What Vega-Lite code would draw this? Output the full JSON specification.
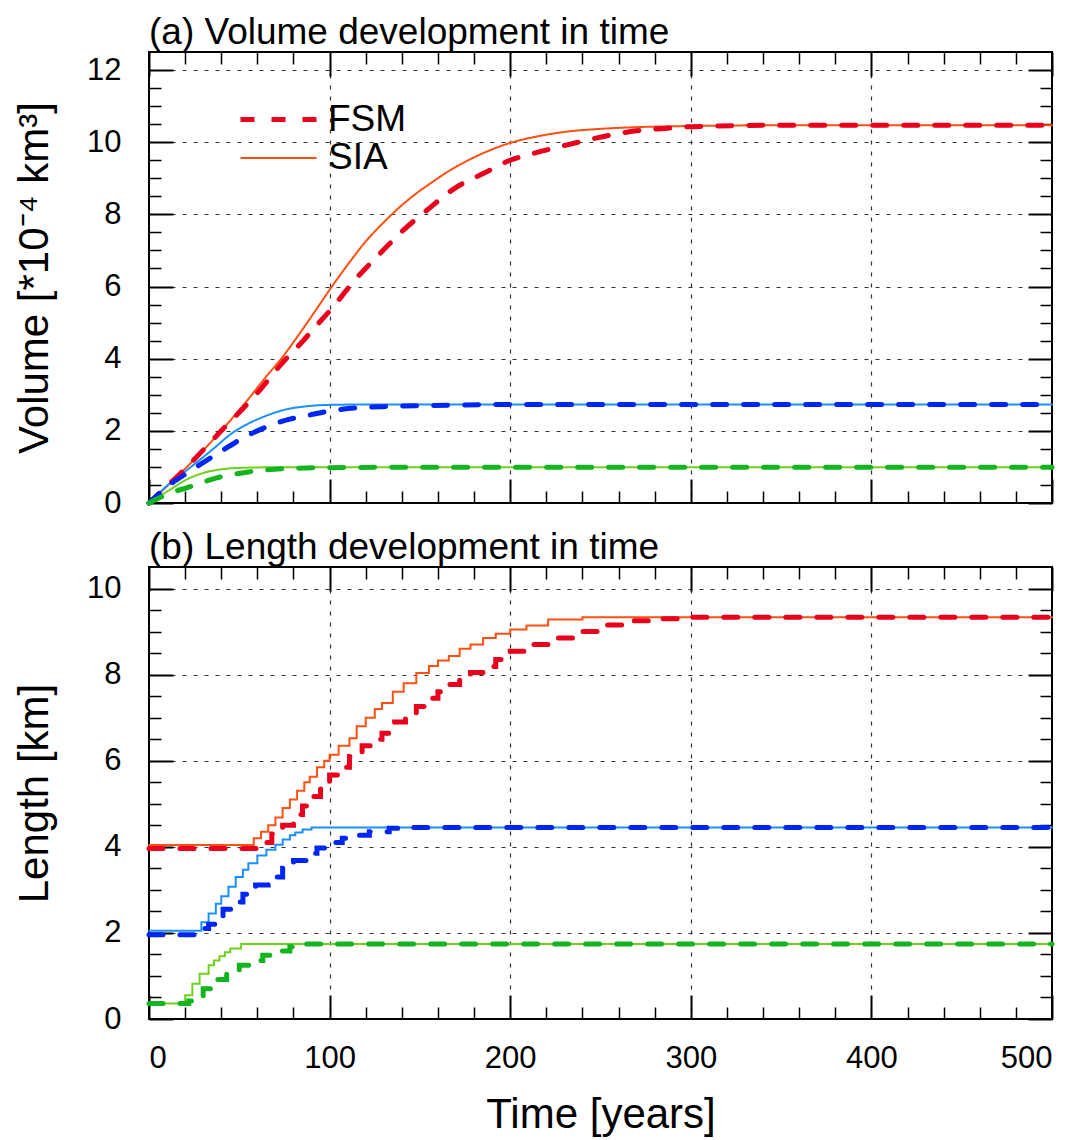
{
  "$schema": "https://vega.github.io/schema/vega-lite/v6.json",
  "padding": {"left": 12, "top": 13, "right": 10, "bottom": 5},
  "bounds": "flush",
  "spacing": 64,
  "config": {
    "font": "Liberation Sans",
    "view": {"stroke": "black", "strokeWidth": 2},
    "axis": {"labelFont": "Liberation Sans", "titleFont": "Liberation Sans", "labelColor": "black", "titleColor": "black", "titleFontWeight": "normal"},
    "title": {"font": "Liberation Sans", "fontWeight": "normal", "color": "black"},
    "legend": {"labelFont": "Liberation Sans"}
  },
  "datasets": {
    "vol": [
      {"series": "SIA-1", "model": "SIA", "t": 0, "v": 0},
      {"series": "SIA-1", "model": "SIA", "t": 21, "v": 1.0},
      {"series": "SIA-1", "model": "SIA", "t": 40, "v": 2.0},
      {"series": "SIA-1", "model": "SIA", "t": 55, "v": 2.88},
      {"series": "SIA-1", "model": "SIA", "t": 64, "v": 3.45},
      {"series": "SIA-1", "model": "SIA", "t": 74, "v": 4.05},
      {"series": "SIA-1", "model": "SIA", "t": 84, "v": 4.74},
      {"series": "SIA-1", "model": "SIA", "t": 92, "v": 5.32},
      {"series": "SIA-1", "model": "SIA", "t": 101, "v": 5.98},
      {"series": "SIA-1", "model": "SIA", "t": 111, "v": 6.67},
      {"series": "SIA-1", "model": "SIA", "t": 120, "v": 7.25},
      {"series": "SIA-1", "model": "SIA", "t": 130, "v": 7.78},
      {"series": "SIA-1", "model": "SIA", "t": 137, "v": 8.12},
      {"series": "SIA-1", "model": "SIA", "t": 148, "v": 8.58},
      {"series": "SIA-1", "model": "SIA", "t": 157, "v": 8.9},
      {"series": "SIA-1", "model": "SIA", "t": 167, "v": 9.23},
      {"series": "SIA-1", "model": "SIA", "t": 176, "v": 9.48},
      {"series": "SIA-1", "model": "SIA", "t": 187, "v": 9.74},
      {"series": "SIA-1", "model": "SIA", "t": 200, "v": 9.98},
      {"series": "SIA-1", "model": "SIA", "t": 213, "v": 10.14},
      {"series": "SIA-1", "model": "SIA", "t": 231, "v": 10.29},
      {"series": "SIA-1", "model": "SIA", "t": 250, "v": 10.37},
      {"series": "SIA-1", "model": "SIA", "t": 266, "v": 10.41},
      {"series": "SIA-1", "model": "SIA", "t": 300, "v": 10.45},
      {"series": "SIA-1", "model": "SIA", "t": 350, "v": 10.47},
      {"series": "SIA-1", "model": "SIA", "t": 500, "v": 10.47},
      {"series": "FSM-1", "model": "FSM", "t": 0, "v": 0},
      {"series": "FSM-1", "model": "FSM", "t": 21, "v": 1.0},
      {"series": "FSM-1", "model": "FSM", "t": 40, "v": 2.0},
      {"series": "FSM-1", "model": "FSM", "t": 60, "v": 3.05},
      {"series": "FSM-1", "model": "FSM", "t": 75, "v": 3.95},
      {"series": "FSM-1", "model": "FSM", "t": 84, "v": 4.42},
      {"series": "FSM-1", "model": "FSM", "t": 91, "v": 4.82},
      {"series": "FSM-1", "model": "FSM", "t": 102, "v": 5.44},
      {"series": "FSM-1", "model": "FSM", "t": 114, "v": 6.18},
      {"series": "FSM-1", "model": "FSM", "t": 128, "v": 6.92},
      {"series": "FSM-1", "model": "FSM", "t": 141, "v": 7.57},
      {"series": "FSM-1", "model": "FSM", "t": 154, "v": 8.12},
      {"series": "FSM-1", "model": "FSM", "t": 168, "v": 8.68},
      {"series": "FSM-1", "model": "FSM", "t": 187, "v": 9.18},
      {"series": "FSM-1", "model": "FSM", "t": 200, "v": 9.5},
      {"series": "FSM-1", "model": "FSM", "t": 213, "v": 9.69},
      {"series": "FSM-1", "model": "FSM", "t": 231, "v": 9.92},
      {"series": "FSM-1", "model": "FSM", "t": 250, "v": 10.14},
      {"series": "FSM-1", "model": "FSM", "t": 266, "v": 10.29},
      {"series": "FSM-1", "model": "FSM", "t": 285, "v": 10.38},
      {"series": "FSM-1", "model": "FSM", "t": 300, "v": 10.43},
      {"series": "FSM-1", "model": "FSM", "t": 350, "v": 10.47},
      {"series": "FSM-1", "model": "FSM", "t": 500, "v": 10.47},
      {"series": "SIA-2", "model": "SIA", "t": 0, "v": 0},
      {"series": "SIA-2", "model": "SIA", "t": 10, "v": 0.48},
      {"series": "SIA-2", "model": "SIA", "t": 22, "v": 0.95},
      {"series": "SIA-2", "model": "SIA", "t": 37, "v": 1.56},
      {"series": "SIA-2", "model": "SIA", "t": 45, "v": 1.9},
      {"series": "SIA-2", "model": "SIA", "t": 55, "v": 2.2},
      {"series": "SIA-2", "model": "SIA", "t": 65, "v": 2.42},
      {"series": "SIA-2", "model": "SIA", "t": 74, "v": 2.57},
      {"series": "SIA-2", "model": "SIA", "t": 89, "v": 2.69},
      {"series": "SIA-2", "model": "SIA", "t": 100, "v": 2.72},
      {"series": "SIA-2", "model": "SIA", "t": 120, "v": 2.73},
      {"series": "SIA-2", "model": "SIA", "t": 500, "v": 2.73},
      {"series": "FSM-2", "model": "FSM", "t": 0, "v": 0},
      {"series": "FSM-2", "model": "FSM", "t": 10, "v": 0.45},
      {"series": "FSM-2", "model": "FSM", "t": 22, "v": 0.86},
      {"series": "FSM-2", "model": "FSM", "t": 37, "v": 1.34},
      {"series": "FSM-2", "model": "FSM", "t": 55, "v": 1.88},
      {"series": "FSM-2", "model": "FSM", "t": 74, "v": 2.27},
      {"series": "FSM-2", "model": "FSM", "t": 89, "v": 2.44},
      {"series": "FSM-2", "model": "FSM", "t": 100, "v": 2.55},
      {"series": "FSM-2", "model": "FSM", "t": 129, "v": 2.67},
      {"series": "FSM-2", "model": "FSM", "t": 166, "v": 2.71},
      {"series": "FSM-2", "model": "FSM", "t": 200, "v": 2.73},
      {"series": "FSM-2", "model": "FSM", "t": 500, "v": 2.73},
      {"series": "SIA-3", "model": "SIA", "t": 0, "v": 0},
      {"series": "SIA-3", "model": "SIA", "t": 11, "v": 0.35},
      {"series": "SIA-3", "model": "SIA", "t": 22, "v": 0.68},
      {"series": "SIA-3", "model": "SIA", "t": 30, "v": 0.83},
      {"series": "SIA-3", "model": "SIA", "t": 37, "v": 0.91},
      {"series": "SIA-3", "model": "SIA", "t": 45, "v": 0.96},
      {"series": "SIA-3", "model": "SIA", "t": 55, "v": 0.98},
      {"series": "SIA-3", "model": "SIA", "t": 70, "v": 0.99},
      {"series": "SIA-3", "model": "SIA", "t": 500, "v": 0.99},
      {"series": "FSM-3", "model": "FSM", "t": 0, "v": 0},
      {"series": "FSM-3", "model": "FSM", "t": 11, "v": 0.26},
      {"series": "FSM-3", "model": "FSM", "t": 22, "v": 0.44},
      {"series": "FSM-3", "model": "FSM", "t": 37, "v": 0.69},
      {"series": "FSM-3", "model": "FSM", "t": 55, "v": 0.86},
      {"series": "FSM-3", "model": "FSM", "t": 74, "v": 0.95},
      {"series": "FSM-3", "model": "FSM", "t": 100, "v": 0.98},
      {"series": "FSM-3", "model": "FSM", "t": 140, "v": 0.99},
      {"series": "FSM-3", "model": "FSM", "t": 500, "v": 0.99}
    ],
    "len": [
      {"series": "SIA-1", "model": "SIA", "t": 0, "l": 4.04},
      {"series": "SIA-1", "model": "SIA", "t": 55, "l": 4.04},
      {"series": "SIA-1", "model": "SIA", "t": 58, "l": 4.2},
      {"series": "SIA-1", "model": "SIA", "t": 62, "l": 4.35},
      {"series": "SIA-1", "model": "SIA", "t": 66, "l": 4.5},
      {"series": "SIA-1", "model": "SIA", "t": 70, "l": 4.68},
      {"series": "SIA-1", "model": "SIA", "t": 74, "l": 4.9},
      {"series": "SIA-1", "model": "SIA", "t": 78, "l": 5.1},
      {"series": "SIA-1", "model": "SIA", "t": 82, "l": 5.3},
      {"series": "SIA-1", "model": "SIA", "t": 86, "l": 5.5},
      {"series": "SIA-1", "model": "SIA", "t": 89, "l": 5.63},
      {"series": "SIA-1", "model": "SIA", "t": 93, "l": 5.85},
      {"series": "SIA-1", "model": "SIA", "t": 97, "l": 6.0},
      {"series": "SIA-1", "model": "SIA", "t": 100, "l": 6.14},
      {"series": "SIA-1", "model": "SIA", "t": 105, "l": 6.35},
      {"series": "SIA-1", "model": "SIA", "t": 111, "l": 6.52},
      {"series": "SIA-1", "model": "SIA", "t": 115, "l": 6.8},
      {"series": "SIA-1", "model": "SIA", "t": 120, "l": 7.0},
      {"series": "SIA-1", "model": "SIA", "t": 125, "l": 7.2},
      {"series": "SIA-1", "model": "SIA", "t": 129, "l": 7.34},
      {"series": "SIA-1", "model": "SIA", "t": 135, "l": 7.6},
      {"series": "SIA-1", "model": "SIA", "t": 141, "l": 7.8},
      {"series": "SIA-1", "model": "SIA", "t": 148, "l": 8.04},
      {"series": "SIA-1", "model": "SIA", "t": 155, "l": 8.2},
      {"series": "SIA-1", "model": "SIA", "t": 160, "l": 8.33},
      {"series": "SIA-1", "model": "SIA", "t": 166, "l": 8.43},
      {"series": "SIA-1", "model": "SIA", "t": 172, "l": 8.6},
      {"series": "SIA-1", "model": "SIA", "t": 178, "l": 8.7},
      {"series": "SIA-1", "model": "SIA", "t": 185, "l": 8.85},
      {"series": "SIA-1", "model": "SIA", "t": 192, "l": 8.95},
      {"series": "SIA-1", "model": "SIA", "t": 200, "l": 9.05},
      {"series": "SIA-1", "model": "SIA", "t": 209, "l": 9.14},
      {"series": "SIA-1", "model": "SIA", "t": 221, "l": 9.28},
      {"series": "SIA-1", "model": "SIA", "t": 240, "l": 9.33},
      {"series": "SIA-1", "model": "SIA", "t": 500, "l": 9.33},
      {"series": "FSM-1", "model": "FSM", "t": 0, "l": 3.96},
      {"series": "FSM-1", "model": "FSM", "t": 59, "l": 3.96},
      {"series": "FSM-1", "model": "FSM", "t": 62, "l": 4.1},
      {"series": "FSM-1", "model": "FSM", "t": 68, "l": 4.3},
      {"series": "FSM-1", "model": "FSM", "t": 74, "l": 4.5},
      {"series": "FSM-1", "model": "FSM", "t": 80, "l": 4.75},
      {"series": "FSM-1", "model": "FSM", "t": 85, "l": 4.95},
      {"series": "FSM-1", "model": "FSM", "t": 89, "l": 5.17},
      {"series": "FSM-1", "model": "FSM", "t": 95, "l": 5.4},
      {"series": "FSM-1", "model": "FSM", "t": 100, "l": 5.67},
      {"series": "FSM-1", "model": "FSM", "t": 105, "l": 5.85},
      {"series": "FSM-1", "model": "FSM", "t": 111, "l": 6.1},
      {"series": "FSM-1", "model": "FSM", "t": 118, "l": 6.35},
      {"series": "FSM-1", "model": "FSM", "t": 123, "l": 6.5},
      {"series": "FSM-1", "model": "FSM", "t": 129, "l": 6.64},
      {"series": "FSM-1", "model": "FSM", "t": 136, "l": 6.9},
      {"series": "FSM-1", "model": "FSM", "t": 142, "l": 7.1},
      {"series": "FSM-1", "model": "FSM", "t": 148, "l": 7.26},
      {"series": "FSM-1", "model": "FSM", "t": 155, "l": 7.45},
      {"series": "FSM-1", "model": "FSM", "t": 160, "l": 7.6},
      {"series": "FSM-1", "model": "FSM", "t": 166, "l": 7.77},
      {"series": "FSM-1", "model": "FSM", "t": 172, "l": 7.9},
      {"series": "FSM-1", "model": "FSM", "t": 178, "l": 8.05},
      {"series": "FSM-1", "model": "FSM", "t": 185, "l": 8.19},
      {"series": "FSM-1", "model": "FSM", "t": 192, "l": 8.35},
      {"series": "FSM-1", "model": "FSM", "t": 200, "l": 8.54},
      {"series": "FSM-1", "model": "FSM", "t": 210, "l": 8.7},
      {"series": "FSM-1", "model": "FSM", "t": 221, "l": 8.85},
      {"series": "FSM-1", "model": "FSM", "t": 235, "l": 9.0},
      {"series": "FSM-1", "model": "FSM", "t": 250, "l": 9.15},
      {"series": "FSM-1", "model": "FSM", "t": 265, "l": 9.25},
      {"series": "FSM-1", "model": "FSM", "t": 280, "l": 9.3},
      {"series": "FSM-1", "model": "FSM", "t": 300, "l": 9.33},
      {"series": "FSM-1", "model": "FSM", "t": 500, "l": 9.33},
      {"series": "SIA-2", "model": "SIA", "t": 0, "l": 2.05},
      {"series": "SIA-2", "model": "SIA", "t": 26, "l": 2.05},
      {"series": "SIA-2", "model": "SIA", "t": 29, "l": 2.25},
      {"series": "SIA-2", "model": "SIA", "t": 33, "l": 2.45},
      {"series": "SIA-2", "model": "SIA", "t": 37, "l": 2.68},
      {"series": "SIA-2", "model": "SIA", "t": 40, "l": 2.85},
      {"series": "SIA-2", "model": "SIA", "t": 44, "l": 3.07},
      {"series": "SIA-2", "model": "SIA", "t": 48, "l": 3.3},
      {"series": "SIA-2", "model": "SIA", "t": 52, "l": 3.47},
      {"series": "SIA-2", "model": "SIA", "t": 55, "l": 3.62},
      {"series": "SIA-2", "model": "SIA", "t": 60, "l": 3.8},
      {"series": "SIA-2", "model": "SIA", "t": 65, "l": 3.93},
      {"series": "SIA-2", "model": "SIA", "t": 70, "l": 4.05},
      {"series": "SIA-2", "model": "SIA", "t": 74, "l": 4.17},
      {"series": "SIA-2", "model": "SIA", "t": 78, "l": 4.27},
      {"series": "SIA-2", "model": "SIA", "t": 81, "l": 4.33},
      {"series": "SIA-2", "model": "SIA", "t": 85, "l": 4.4},
      {"series": "SIA-2", "model": "SIA", "t": 90, "l": 4.45},
      {"series": "SIA-2", "model": "SIA", "t": 500, "l": 4.45},
      {"series": "FSM-2", "model": "FSM", "t": 0, "l": 1.96},
      {"series": "FSM-2", "model": "FSM", "t": 27, "l": 1.96},
      {"series": "FSM-2", "model": "FSM", "t": 30, "l": 2.1},
      {"series": "FSM-2", "model": "FSM", "t": 33, "l": 2.2},
      {"series": "FSM-2", "model": "FSM", "t": 37, "l": 2.37},
      {"series": "FSM-2", "model": "FSM", "t": 41, "l": 2.55},
      {"series": "FSM-2", "model": "FSM", "t": 46, "l": 2.72},
      {"series": "FSM-2", "model": "FSM", "t": 52, "l": 2.9},
      {"series": "FSM-2", "model": "FSM", "t": 59, "l": 3.11},
      {"series": "FSM-2", "model": "FSM", "t": 66, "l": 3.3},
      {"series": "FSM-2", "model": "FSM", "t": 74, "l": 3.5},
      {"series": "FSM-2", "model": "FSM", "t": 80, "l": 3.68},
      {"series": "FSM-2", "model": "FSM", "t": 87, "l": 3.85},
      {"series": "FSM-2", "model": "FSM", "t": 93, "l": 3.97},
      {"series": "FSM-2", "model": "FSM", "t": 100, "l": 4.1},
      {"series": "FSM-2", "model": "FSM", "t": 107, "l": 4.2},
      {"series": "FSM-2", "model": "FSM", "t": 114, "l": 4.27},
      {"series": "FSM-2", "model": "FSM", "t": 122, "l": 4.35},
      {"series": "FSM-2", "model": "FSM", "t": 133, "l": 4.43},
      {"series": "FSM-2", "model": "FSM", "t": 140, "l": 4.45},
      {"series": "FSM-2", "model": "FSM", "t": 500, "l": 4.45},
      {"series": "SIA-3", "model": "SIA", "t": 0, "l": 0.36},
      {"series": "SIA-3", "model": "SIA", "t": 17, "l": 0.36},
      {"series": "SIA-3", "model": "SIA", "t": 20, "l": 0.55},
      {"series": "SIA-3", "model": "SIA", "t": 24, "l": 0.82},
      {"series": "SIA-3", "model": "SIA", "t": 28, "l": 1.05},
      {"series": "SIA-3", "model": "SIA", "t": 33, "l": 1.25},
      {"series": "SIA-3", "model": "SIA", "t": 36, "l": 1.36},
      {"series": "SIA-3", "model": "SIA", "t": 39, "l": 1.46},
      {"series": "SIA-3", "model": "SIA", "t": 42, "l": 1.55},
      {"series": "SIA-3", "model": "SIA", "t": 45, "l": 1.64},
      {"series": "SIA-3", "model": "SIA", "t": 51, "l": 1.74},
      {"series": "SIA-3", "model": "SIA", "t": 500, "l": 1.74},
      {"series": "FSM-3", "model": "FSM", "t": 0, "l": 0.36},
      {"series": "FSM-3", "model": "FSM", "t": 19, "l": 0.36},
      {"series": "FSM-3", "model": "FSM", "t": 22, "l": 0.42},
      {"series": "FSM-3", "model": "FSM", "t": 26, "l": 0.53},
      {"series": "FSM-3", "model": "FSM", "t": 30, "l": 0.7},
      {"series": "FSM-3", "model": "FSM", "t": 34, "l": 0.8},
      {"series": "FSM-3", "model": "FSM", "t": 37, "l": 0.92},
      {"series": "FSM-3", "model": "FSM", "t": 43, "l": 1.1},
      {"series": "FSM-3", "model": "FSM", "t": 50, "l": 1.25},
      {"series": "FSM-3", "model": "FSM", "t": 56, "l": 1.36},
      {"series": "FSM-3", "model": "FSM", "t": 63, "l": 1.48},
      {"series": "FSM-3", "model": "FSM", "t": 70, "l": 1.58},
      {"series": "FSM-3", "model": "FSM", "t": 78, "l": 1.68},
      {"series": "FSM-3", "model": "FSM", "t": 81, "l": 1.74},
      {"series": "FSM-3", "model": "FSM", "t": 500, "l": 1.74}
    ]
  },
  "vconcat": [
    {
      "width": 903,
      "height": 451,
      "data": {"name": "vol"},
      "title": {"text": "(a) Volume development in time", "anchor": "start", "frame": "group", "fontSize": 37, "offset": -38, "baseline": "bottom"},
      "resolve": {"axis": {"x": "independent", "y": "independent"}},
      "layer": [
        {
          "transform": [{"filter": "datum.model === 'SIA'"}],
          "mark": {"type": "line", "interpolate": "monotone", "strokeCap": "round"},
          "encoding": {
            "x": {"field": "t", "type": "quantitative", "scale": {"domain": [0, 500], "nice": false, "zero": false},
              "axis": {"orient": "bottom", "title": null, "labels": false, "domain": false,
                "values": [0,20,40,60,80,100,120,140,160,180,200,220,240,260,280,300,320,340,360,380,400,420,440,460,480,500],
                "tickColor": "black",
                "tickSize": {"condition": {"test": "datum.value % 100 === 0", "value": -24}, "value": -12},
                "tickWidth": {"condition": {"test": "datum.value % 100 === 0", "value": 2}, "value": 1.5},
                "grid": true, "gridColor": "#333", "gridDash": [4, 7], "gridWidth": 1.2,
                "gridOpacity": {"condition": {"test": "datum.value % 100 === 0 && datum.value > 0 && datum.value < 500", "value": 1}, "value": 0}}},
            "y": {"field": "v", "type": "quantitative", "scale": {"domain": [0, 12.5], "nice": false, "zero": false},
              "axis": {"orient": "left", "title": "Volume [*10⁻⁴ km³]", "titleFontSize": 42, "titlePadding": 30, "domain": false,
                "values": [0,0.5,1,1.5,2,2.5,3,3.5,4,4.5,5,5.5,6,6.5,7,7.5,8,8.5,9,9.5,10,10.5,11,11.5,12],
                "labelExpr": "datum.value % 2 === 0 ? format(datum.value, 'd') : ''",
                "labelFontSize": 31, "labelPadding": 52,
                "tickColor": "black",
                "tickSize": {"condition": {"test": "datum.value % 2 === 0", "value": -24}, "value": -12},
                "tickWidth": {"condition": {"test": "datum.value % 2 === 0", "value": 2}, "value": 1.5},
                "grid": true, "gridColor": "#333", "gridDash": [4, 7], "gridWidth": 1.2,
                "gridOpacity": {"condition": {"test": "datum.value % 2 === 0 && datum.value > 0", "value": 1}, "value": 0}}},
            "color": {"field": "series", "type": "nominal",
              "scale": {"domain": ["FSM-1", "SIA-1", "FSM-2", "SIA-2", "FSM-3", "SIA-3"], "range": ["#e8001c", "#ff5014", "#0026f2", "#1a90ff", "#14b41e", "#6ed21c"]},
              "legend": {"orient": "none", "legendX": 127, "legendY": 46, "title": null, "values": ["FSM-1", "SIA-1"], "labelExpr": "slice(datum.label, 0, 3)", "labelFontSize": 37, "symbolType": "M -3 0 L 1 0", "symbolSize": 1444, "labelOffset": 9, "rowPadding": 0}},
            "strokeDash": {"field": "series", "type": "nominal",
              "scale": {"domain": ["FSM-1", "SIA-1", "FSM-2", "SIA-2", "FSM-3", "SIA-3"], "range": [[14, 17], [1, 0], [14, 17], [1, 0], [14, 17], [1, 0]]},
              "legend": {"orient": "none", "legendX": 127, "legendY": 46, "title": null, "values": ["FSM-1", "SIA-1"], "labelExpr": "slice(datum.label, 0, 3)", "labelFontSize": 37, "symbolType": "M -3 0 L 1 0", "symbolSize": 1444, "labelOffset": 9, "rowPadding": 0}},
            "strokeWidth": {"field": "series", "type": "nominal",
              "scale": {"type": "ordinal", "domain": ["FSM-1", "SIA-1", "FSM-2", "SIA-2", "FSM-3", "SIA-3"], "range": [5, 2, 5, 2, 5, 2]},
              "legend": {"orient": "none", "legendX": 127, "legendY": 46, "title": null, "values": ["FSM-1", "SIA-1"], "labelExpr": "slice(datum.label, 0, 3)", "labelFontSize": 37, "symbolType": "M -3 0 L 1 0", "symbolSize": 1444, "labelOffset": 9, "rowPadding": 0}}
          }
        },
        {
          "transform": [{"filter": "datum.model === 'FSM'"}],
          "mark": {"type": "line", "interpolate": "monotone", "strokeCap": "round"},
          "encoding": {
            "x": {"field": "t", "type": "quantitative", "scale": {"domain": [0, 500], "nice": false, "zero": false},
              "axis": {"orient": "top", "title": null, "labels": false, "domain": false, "grid": false, "minExtent": 0, "maxExtent": 0,
                "values": [0,20,40,60,80,100,120,140,160,180,200,220,240,260,280,300,320,340,360,380,400,420,440,460,480,500],
                "tickColor": "black",
                "tickSize": {"condition": {"test": "datum.value % 100 === 0", "value": -24}, "value": -12},
                "tickWidth": {"condition": {"test": "datum.value % 100 === 0", "value": 2}, "value": 1.5}}},
            "y": {"field": "v", "type": "quantitative", "scale": {"domain": [0, 12.5], "nice": false, "zero": false},
              "axis": {"orient": "right", "title": null, "labels": false, "domain": false, "grid": false, "minExtent": 0, "maxExtent": 0,
                "values": [0,0.5,1,1.5,2,2.5,3,3.5,4,4.5,5,5.5,6,6.5,7,7.5,8,8.5,9,9.5,10,10.5,11,11.5,12],
                "tickColor": "black",
                "tickSize": {"condition": {"test": "datum.value % 2 === 0", "value": -24}, "value": -12},
                "tickWidth": {"condition": {"test": "datum.value % 2 === 0", "value": 2}, "value": 1.5}}},
            "color": {"field": "series", "type": "nominal",
              "legend": {"orient": "none", "legendX": 127, "legendY": 46, "title": null, "values": ["FSM-1", "SIA-1"], "labelExpr": "slice(datum.label, 0, 3)", "labelFontSize": 37, "symbolType": "M -3 0 L 1 0", "symbolSize": 1444, "labelOffset": 9, "rowPadding": 0}},
            "strokeDash": {"field": "series", "type": "nominal",
              "legend": {"orient": "none", "legendX": 127, "legendY": 46, "title": null, "values": ["FSM-1", "SIA-1"], "labelExpr": "slice(datum.label, 0, 3)", "labelFontSize": 37, "symbolType": "M -3 0 L 1 0", "symbolSize": 1444, "labelOffset": 9, "rowPadding": 0}},
            "strokeWidth": {"field": "series", "type": "nominal", "scale": {"type": "ordinal"},
              "legend": {"orient": "none", "legendX": 127, "legendY": 46, "title": null, "values": ["FSM-1", "SIA-1"], "labelExpr": "slice(datum.label, 0, 3)", "labelFontSize": 37, "symbolType": "M -3 0 L 1 0", "symbolSize": 1444, "labelOffset": 9, "rowPadding": 0}}
          }
        }
      ]
    },
    {
      "width": 903,
      "height": 452,
      "data": {"name": "len"},
      "title": {"text": "(b) Length development in time", "anchor": "start", "frame": "group", "fontSize": 37, "offset": -38, "baseline": "bottom"},
      "resolve": {"axis": {"x": "independent", "y": "independent"}},
      "layer": [
        {
          "transform": [{"filter": "datum.model === 'SIA'"}],
          "mark": {"type": "line", "interpolate": "step-after", "strokeCap": "round"},
          "encoding": {
            "x": {"field": "t", "type": "quantitative", "scale": {"domain": [0, 500], "nice": false, "zero": false},
              "axis": {"orient": "bottom", "title": "Time [years]", "titleFontSize": 42, "titlePadding": 21, "domain": false,
                "values": [0,20,40,60,80,100,120,140,160,180,200,220,240,260,280,300,320,340,360,380,400,420,440,460,480,500],
                "labelExpr": "datum.value % 100 === 0 ? datum.label : ''",
                "labelFontSize": 31, "labelPadding": 48,
                "tickColor": "black",
                "tickSize": {"condition": {"test": "datum.value % 100 === 0", "value": -24}, "value": -12},
                "tickWidth": {"condition": {"test": "datum.value % 100 === 0", "value": 2}, "value": 1.5},
                "grid": true, "gridColor": "#333", "gridDash": [4, 7], "gridWidth": 1.2,
                "gridOpacity": {"condition": {"test": "datum.value % 100 === 0 && datum.value > 0 && datum.value < 500", "value": 1}, "value": 0}}},
            "y": {"field": "l", "type": "quantitative", "scale": {"domain": [0, 10.5], "nice": false, "zero": false},
              "axis": {"orient": "left", "title": "Length [km]", "titleFontSize": 42, "titlePadding": 30, "domain": false,
                "values": [0,0.5,1,1.5,2,2.5,3,3.5,4,4.5,5,5.5,6,6.5,7,7.5,8,8.5,9,9.5,10],
                "labelExpr": "datum.value % 2 === 0 ? format(datum.value, 'd') : ''",
                "labelFontSize": 31, "labelPadding": 52,
                "tickColor": "black",
                "tickSize": {"condition": {"test": "datum.value % 2 === 0", "value": -24}, "value": -12},
                "tickWidth": {"condition": {"test": "datum.value % 2 === 0", "value": 2}, "value": 1.5},
                "grid": true, "gridColor": "#333", "gridDash": [4, 7], "gridWidth": 1.2,
                "gridOpacity": {"condition": {"test": "datum.value % 2 === 0 && datum.value > 0 && datum.value < 10.5", "value": 1}, "value": 0}}},
            "color": {"field": "series", "type": "nominal", "legend": null},
            "strokeDash": {"field": "series", "type": "nominal", "legend": null},
            "strokeWidth": {"field": "series", "type": "nominal", "scale": {"type": "ordinal"}, "legend": null}
          }
        },
        {
          "transform": [{"filter": "datum.model === 'FSM'"}],
          "mark": {"type": "line", "interpolate": "step-after", "strokeCap": "round"},
          "encoding": {
            "x": {"field": "t", "type": "quantitative", "scale": {"domain": [0, 500], "nice": false, "zero": false},
              "axis": {"orient": "top", "title": null, "labels": false, "domain": false, "grid": false, "minExtent": 0, "maxExtent": 0,
                "values": [0,20,40,60,80,100,120,140,160,180,200,220,240,260,280,300,320,340,360,380,400,420,440,460,480,500],
                "tickColor": "black",
                "tickSize": {"condition": {"test": "datum.value % 100 === 0", "value": -24}, "value": -12},
                "tickWidth": {"condition": {"test": "datum.value % 100 === 0", "value": 2}, "value": 1.5}}},
            "y": {"field": "l", "type": "quantitative", "scale": {"domain": [0, 10.5], "nice": false, "zero": false},
              "axis": {"orient": "right", "title": null, "labels": false, "domain": false, "grid": false, "minExtent": 0, "maxExtent": 0,
                "values": [0,0.5,1,1.5,2,2.5,3,3.5,4,4.5,5,5.5,6,6.5,7,7.5,8,8.5,9,9.5,10],
                "tickColor": "black",
                "tickSize": {"condition": {"test": "datum.value % 2 === 0", "value": -24}, "value": -12},
                "tickWidth": {"condition": {"test": "datum.value % 2 === 0", "value": 2}, "value": 1.5}}},
            "color": {"field": "series", "type": "nominal", "legend": null},
            "strokeDash": {"field": "series", "type": "nominal", "legend": null},
            "strokeWidth": {"field": "series", "type": "nominal", "scale": {"type": "ordinal"}, "legend": null}
          }
        }
      ]
    }
  ]
}
